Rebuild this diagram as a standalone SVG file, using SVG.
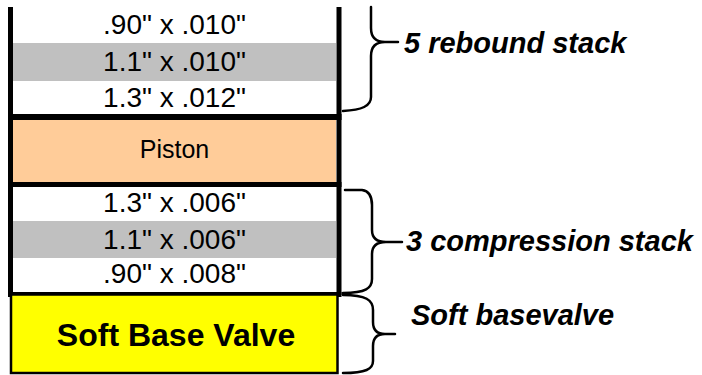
<svg xmlns="http://www.w3.org/2000/svg" width="702" height="375" viewBox="0 0 702 375">
<style>
.row{font-family:"Liberation Sans",Arial,sans-serif;font-size:28px;fill:#000;text-anchor:middle}
.pist{font-family:"Liberation Sans",Arial,sans-serif;font-size:25px;fill:#000;text-anchor:middle}
.big{font-family:"Liberation Sans",Arial,sans-serif;font-size:32px;font-weight:bold;fill:#000;text-anchor:middle}
.lbl{font-family:"Liberation Sans",Arial,sans-serif;font-size:29px;font-weight:bold;font-style:italic;fill:#000}
.frame{stroke:#000;fill:none}
.brace{stroke:#000;stroke-width:2.5;fill:none;stroke-linecap:round}
.gray{fill:#C0C0C0}
</style>
<rect x="0" y="0" width="702" height="375" fill="#fff"/>
<g id="rebound-stack">
<rect class="gray" x="13" y="43" width="323" height="38"/>
<text class="row" x="174.5" y="34.3">.90" x .010"</text>
<text class="row" x="174.5" y="70.7">1.1" x .010"</text>
<text class="row" x="174.5" y="107.3">1.3" x .012"</text>
</g>
<g id="piston">
<rect x="13" y="120" width="323" height="62" fill="#FFCC99"/>
<text class="pist" x="174.5" y="158.3">Piston</text>
</g>
<g id="compression-stack">
<rect class="gray" x="13" y="221" width="323" height="37"/>
<text class="row" x="174.5" y="212.3">1.3" x .006"</text>
<text class="row" x="174.5" y="249">1.1" x .006"</text>
<text class="row" x="174.5" y="283.3">.90" x .008"</text>
</g>
<g id="frame">
<path class="frame" stroke-width="5" d="M10.5,7 V295 M339,7 V295"/>
<path class="frame" stroke-width="6" d="M8,117 H341.5"/>
<path class="frame" stroke-width="5" d="M8,184.5 H341.5 M8,294.5 H341.5"/>
</g>
<g id="base-valve">
<rect x="11" y="294.5" width="326.5" height="78.5" fill="#FFFF00" stroke="#000" stroke-width="2.5"/>
<text class="big" x="176" y="346">Soft Base Valve</text>
</g>
<g id="connectors">
<path class="brace" d="M371,7 V28 Q371,42 385,42 H398 M385,42 Q371,42 371,56 V97 C371,106 362,110 343,111"/>
<path class="brace" d="M345,190 H362 C369,191 372,196 372,205 V230 Q372,242 386,242 H402 M386,242 Q372,242 372,254 V279 C372,288 366,293 343,293"/>
<path class="brace" d="M343,295 C366,295 373,300 373,310 V322 Q373,334 385,334 H395 M385,334 Q373,334 373,346 V361 C373,369 366,373 343,373"/>
</g>
<g id="labels">
<text class="lbl" x="404" y="52.7">5 rebound stack</text>
<text class="lbl" x="406" y="250.7">3 compression stack</text>
<text class="lbl" x="411" y="325">Soft basevalve</text>
</g>
</svg>
